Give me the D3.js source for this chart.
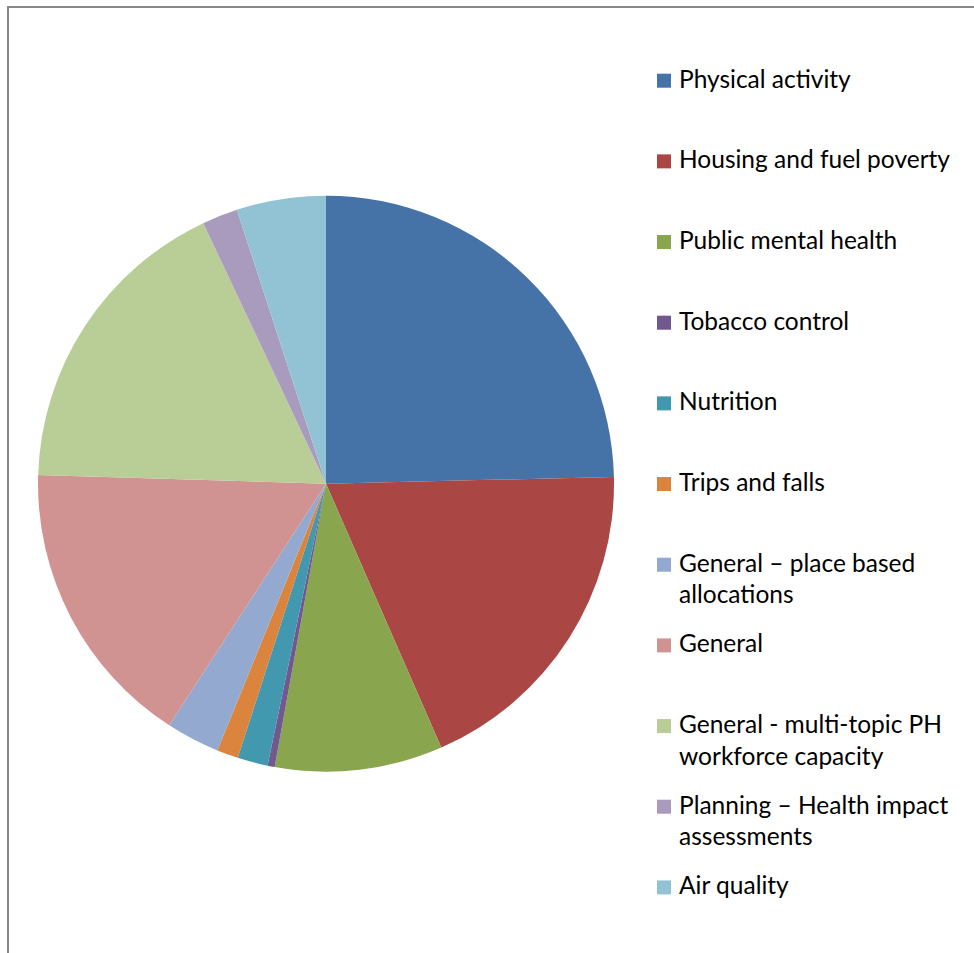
<!DOCTYPE html>
<html>
<head>
<meta charset="utf-8">
<script src="https://cdn.jsdelivr.net/npm/d3@7"></script>
<style>
  html, body { margin: 0; padding: 0; background: #fff; }
  svg { display: block; }
</style>
</head>
<body>
<svg id="chart" width="974" height="953"></svg>
<script>
// ---- Data (share of funding, %) ----
const categories = [
  "Physical activity",
  "Housing and fuel poverty",
  "Public mental health",
  "Tobacco control",
  "Nutrition",
  "Trips and falls",
  "General \u2013 place based allocations",
  "General",
  "General - multi-topic PH workforce capacity",
  "Planning \u2013 Health impact assessments",
  "Air quality"
];
const values = [24.6, 18.8, 9.4, 0.4, 1.7, 1.2, 3.0, 16.3, 17.5, 2.0, 5.0];
// legend text split into lines as in the original
const legendLines = [
  ["Physical activity"],
  ["Housing and fuel poverty"],
  ["Public mental health"],
  ["Tobacco control"],
  ["Nutrition"],
  ["Trips and falls"],
  ["General \u2013 place based", "allocations"],
  ["General"],
  ["General - multi-topic PH", "workforce capacity"],
  ["Planning \u2013 Health impact", "assessments"],
  ["Air quality"]
];
const colors = ["#4572A7", "#AA4643", "#89A54E", "#71588F", "#4198AF", "#DB843D",
                "#93A9CF", "#D19392", "#B9CD96", "#A99BBD", "#92C3D4"];

const svg = d3.select("#chart");

// chart frame
svg.append("rect")
  .attr("x", 8).attr("y", 7)
  .attr("width", 1200).attr("height", 1200)
  .attr("fill", "none")
  .attr("stroke", "#878787")
  .attr("stroke-width", 2);

// ---- Pie ----
const cx = 326, cy = 483.7, r = 288;
const pie = d3.pie().sort(null).value(d => d);
const arc = d3.arc().innerRadius(0).outerRadius(r);
const color = d3.scaleOrdinal().domain(categories).range(colors);

svg.append("g")
  .attr("transform", `translate(${cx},${cy})`)
  .selectAll("path")
  .data(pie(values))
  .join("path")
  .attr("d", arc)
  .attr("fill", (d, i) => color(categories[i]));

// ---- Legend ----
const fontFamily = "Lato, 'Open Sans', 'Liberation Sans', sans-serif";
// fit font so longest line matches the original width
const probe = svg.append("text").attr("font-family", fontFamily).attr("font-size", 100)
  .text("Housing and fuel poverty");
const probeW = probe.node().getComputedTextLength();
probe.remove();
const fontSize = Math.min(26, 100 * 271 / probeW);

const rowY = d3.scaleLinear().domain([0, categories.length - 1]).range([87.7, 894.4]);
const lineGap = 31.6;

const leg = svg.append("g");
const items = leg.selectAll("g")
  .data(categories)
  .join("g")
  .attr("transform", (d, i) => `translate(0,${rowY(i)})`);

items.append("rect")
  .attr("x", 657).attr("y", -14)
  .attr("width", 14).attr("height", 14)
  .attr("fill", d => color(d));

items.append("text")
  .attr("x", 679).attr("y", 0)
  .attr("font-family", fontFamily)
  .attr("font-size", fontSize)
  .attr("fill", "#000")
  .selectAll("tspan")
  .data((d, i) => legendLines[i])
  .join("tspan")
  .attr("x", 679)
  .attr("y", (t, j) => j * lineGap)
  .text(t => t);
</script>
</body>
</html>
